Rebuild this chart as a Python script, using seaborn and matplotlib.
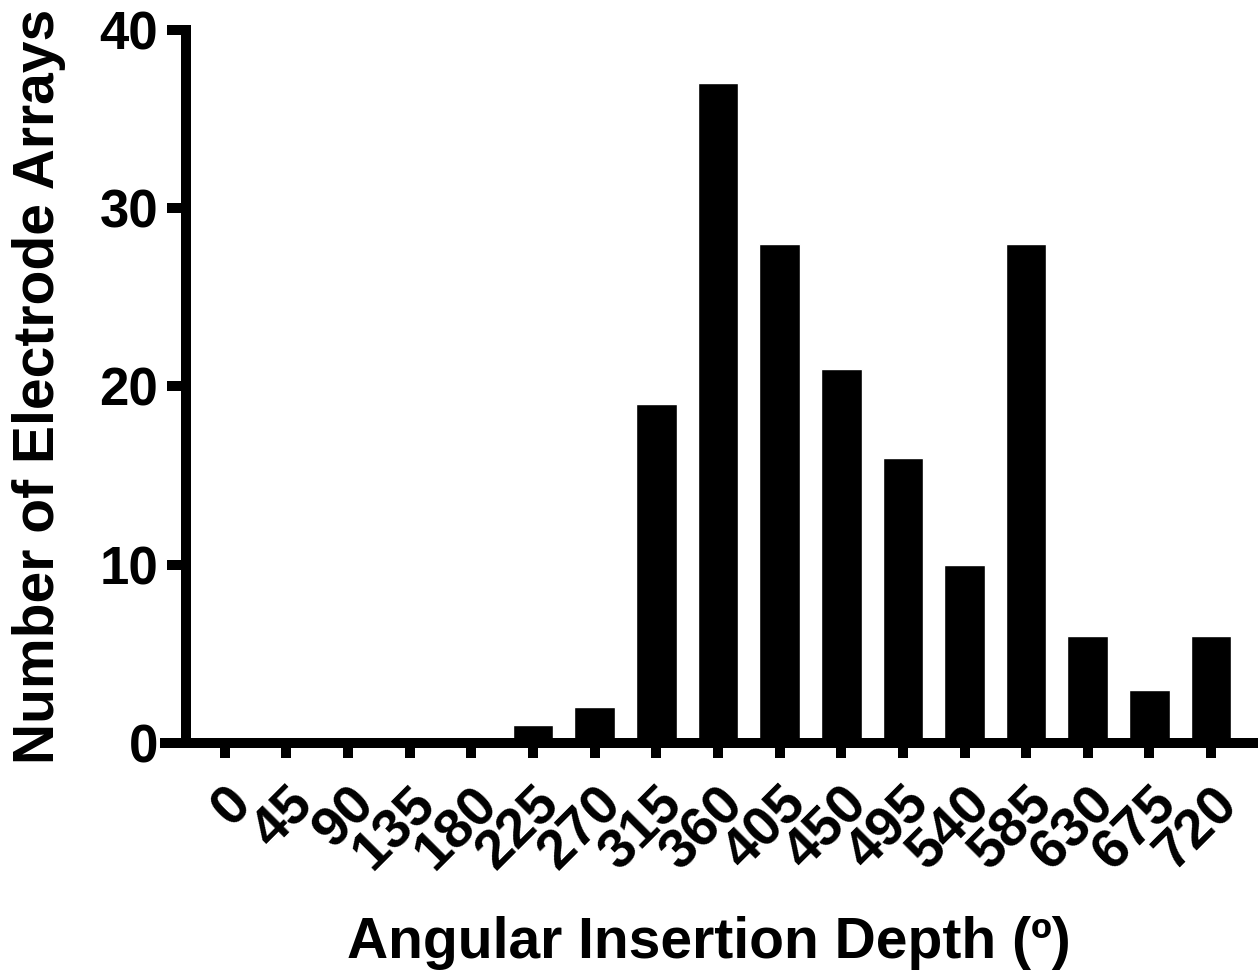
import pandas as pd
import matplotlib
matplotlib.use("Agg")
import matplotlib.pyplot as plt
import seaborn as sns

# angular insertion depth bins (degrees) and counts
depths = ["0", "45", "90", "135", "180", "225", "270", "315", "360",
          "405", "450", "495", "540", "585", "630", "675", "720"]
counts = [0, 0, 0, 0, 0, 1, 2, 19, 37, 28, 21, 16, 10, 28, 6, 3, 6]
yticks = [0, 10, 20, 30, 40]

df = pd.DataFrame({"depth": depths, "count": counts})

sns.set_style("ticks")
plt.rcParams["font.family"] = ["Liberation Sans", "DejaVu Sans"]
plt.rcParams["font.weight"] = "bold"
for k in ["text.color", "axes.labelcolor", "xtick.color", "ytick.color", "axes.edgecolor"]:
    plt.rcParams[k] = "black"

fig = plt.figure(figsize=(12.6, 9.8), dpi=100)
ax = fig.add_axes([165 / 1260, 237 / 980, (1253 - 165) / 1260, (743 - 30) / 980])

sns.barplot(data=df, x="depth", y="count", order=depths, color="black",
            width=0.66, saturation=1, ax=ax)

ax.set_xlim(-0.97, 16.68)
ax.set_ylim(0, 40)
ax.set_yticks(yticks)
ax.set_yticklabels([str(t) for t in yticks])

lw = 7.2
sns.despine(ax=ax)
for s in ["left", "bottom"]:
    ax.spines[s].set_linewidth(lw)
    ax.spines[s].set_color("black")
    ax.spines[s].set_capstyle("projecting")
ax.spines["left"].set_position(("data", -0.63))

ax.tick_params(axis="y", length=14, width=lw, labelsize=38, pad=6)
ax.tick_params(axis="x", length=11, width=lw, labelsize=40, pad=14)
for lab in ax.get_xticklabels():
    lab.set_rotation(45)
    lab.set_ha("right")
    lab.set_va("top")
    lab.set_rotation_mode("anchor")
    lab.set_fontweight("bold")
for lab in ax.get_yticklabels():
    lab.set_fontweight("bold")

ax.set_xlabel("Angular Insertion Depth (º)", fontsize=41, fontweight="bold", labelpad=26)
ax.set_ylabel("Number of Electrode Arrays", fontsize=41, fontweight="bold", labelpad=24)

fig.savefig("out.png", dpi=100)
